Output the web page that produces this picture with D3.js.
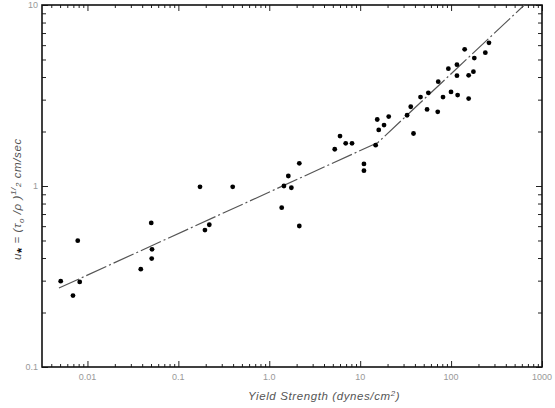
<!DOCTYPE html>
<html>
<head>
<meta charset="utf-8">
<script src="https://cdn.jsdelivr.net/npm/d3@7"></script>
<style>
  html, body { margin: 0; padding: 0; background: #fff; }
  svg { display: block; }
</style>
</head>
<body>
<svg id="chart" width="555" height="408"></svg>
<script>
// ---- Data ----
const yieldStrength = [
  0.00508, 0.00693, 0.00782, 0.00822,
  0.0386, 0.0503, 0.0513, 0.0509,
  0.173, 0.396, 0.196, 0.219,
  1.37, 1.45, 1.62, 1.75, 2.14, 2.14,
  5.25, 6.0, 6.93, 8.13, 11.0, 11.0,
  14.8, 15.4, 16.0, 18.3, 20.6,
  32.8, 38.6, 36.0, 46.1, 54.4, 56.2, 71.3, 72.2, 81.5,
  93.3, 99.8, 116, 118, 116, 141, 156, 156, 176, 180, 238, 261
];
const frictionVelocity = [
  0.298, 0.248, 0.499, 0.295,
  0.347, 0.625, 0.447, 0.397,
  0.99, 0.99, 0.571, 0.611,
  0.759, 1.0, 1.136, 0.978, 1.334, 0.601,
  1.596, 1.888, 1.72, 1.72, 1.324, 1.216,
  1.68, 2.33, 2.04, 2.17, 2.42,
  2.46, 1.95, 2.74, 3.10, 2.65, 3.27, 2.57, 3.77, 3.10,
  4.45, 3.31, 4.68, 3.18, 4.07, 5.69, 4.09, 3.04, 4.28, 5.09, 5.45, 6.18
];
const fitX = [0.00486, 15.7, 640];
const fitY = [0.273, 1.74, 10];

const xTickValues = [0.01, 0.1, 1, 10, 100, 1000];
const xTickLabels = ["0.01", "0.1", "1.0", "10", "100", "1000"];
const yTickValues = [0.1, 1, 10];
const yTickLabels = ["0.1", "1", "10"];

// ---- Layout ----
const W = 555, H = 408;
const mLeft = 42, mRight = 542, mTop = 5, mBottom = 367;

const svg = d3.select("#chart");

const x = d3.scaleLog().domain([Math.pow(10, -2.5), 1000]).range([mLeft, mRight]);
const y = d3.scaleLog().domain([0.1, 10]).range([mBottom, mTop]);

function minorTicks(scale) {
  const [a, b] = scale.domain();
  const out = [];
  for (let e = Math.floor(Math.log10(a)); e <= Math.ceil(Math.log10(b)); e++) {
    for (let m = 2; m <= 9; m++) {
      const v = m * Math.pow(10, e);
      if (v > a * 1.0001 && v < b * 0.9999) out.push(v);
    }
  }
  return out;
}
const xMinor = minorTicks(x);
const yMinor = minorTicks(y);

function drawTicks(g) {
  g.selectAll("path").remove();
  g.selectAll("line").attr("stroke", "#222").attr("stroke-width", 1);
  g.selectAll("text").remove();
}

svg.append("g").attr("transform", `translate(0,${mBottom})`)
  .call(d3.axisBottom(x).tickValues(xMinor).tickSize(-3).tickFormat(""))
  .call(drawTicks);
svg.append("g").attr("transform", `translate(0,${mBottom})`)
  .call(d3.axisBottom(x).tickValues(xTickValues).tickSize(-6).tickFormat(""))
  .call(drawTicks);
svg.append("g").attr("transform", `translate(0,${mTop})`)
  .call(d3.axisTop(x).tickValues(xMinor).tickSize(-3).tickFormat(""))
  .call(drawTicks);
svg.append("g").attr("transform", `translate(0,${mTop})`)
  .call(d3.axisTop(x).tickValues(xTickValues).tickSize(-6).tickFormat(""))
  .call(drawTicks);
svg.append("g").attr("transform", `translate(${mLeft},0)`)
  .call(d3.axisLeft(y).tickValues(yMinor).tickSize(-4).tickFormat(""))
  .call(drawTicks);
svg.append("g").attr("transform", `translate(${mLeft},0)`)
  .call(d3.axisLeft(y).tickValues(yTickValues).tickSize(-6).tickFormat(""))
  .call(drawTicks);
svg.append("g").attr("transform", `translate(${mRight},0)`)
  .call(d3.axisRight(y).tickValues(yMinor).tickSize(-4).tickFormat(""))
  .call(drawTicks);
svg.append("g").attr("transform", `translate(${mRight},0)`)
  .call(d3.axisRight(y).tickValues(yTickValues).tickSize(-6).tickFormat(""))
  .call(drawTicks);

svg.append("rect")
  .attr("x", mLeft).attr("y", mTop)
  .attr("width", mRight - mLeft).attr("height", mBottom - mTop)
  .attr("fill", "none").attr("stroke", "#111").attr("stroke-width", 1.6);

const labelFont = "Liberation Sans, Arial, sans-serif";
svg.append("g").selectAll("text")
  .data(xTickValues)
  .join("text")
  .attr("x", d => x(d))
  .attr("y", mBottom + 13)
  .attr("text-anchor", "middle")
  .attr("font-family", labelFont)
  .attr("font-size", 9)
  .attr("fill", "#999")
  .text((d, i) => xTickLabels[i]);

svg.append("g").selectAll("text")
  .data(yTickValues)
  .join("text")
  .attr("x", mLeft - 4)
  .attr("y", d => y(d) + 3)
  .attr("text-anchor", "end")
  .attr("font-family", labelFont)
  .attr("font-size", 9)
  .attr("fill", "#999")
  .text((d, i) => yTickLabels[i]);

const line = d3.line().x(d => x(d[0])).y(d => y(d[1]));
svg.append("path")
  .datum(fitX.map((v, i) => [v, fitY[i]]))
  .attr("d", line)
  .attr("fill", "none")
  .attr("stroke", "#555")
  .attr("stroke-width", 1.2)
  .attr("stroke-dasharray", "22,3,2,3");

svg.append("g").selectAll("circle")
  .data(yieldStrength.map((v, i) => [v, frictionVelocity[i]]))
  .join("circle")
  .attr("cx", d => x(d[0]))
  .attr("cy", d => y(d[1]))
  .attr("r", 2.4)
  .attr("fill", "#000");

const xt = svg.append("text")
  .attr("x", 248)
  .attr("y", 400)
  .attr("font-family", labelFont)
  .attr("font-style", "italic")
  .attr("font-size", 11.5)
  .attr("letter-spacing", 0.6)
  .attr("fill", "#555");
xt.append("tspan").text("Yield Strength (dynes/cm");
xt.append("tspan").attr("dy", -4).attr("font-size", 8).text("2");
xt.append("tspan").attr("dy", 4).text(")");

const yt = svg.append("text")
  .attr("transform", "translate(21,260) rotate(-90)")
  .attr("font-family", labelFont)
  .attr("font-style", "italic")
  .attr("font-size", 11.5)
  .attr("letter-spacing", 0.6)
  .attr("fill", "#555");
yt.append("tspan").text("u");
yt.append("tspan").attr("dy", 5).attr("font-size", 13).attr("font-style", "normal")
  .attr("font-weight", "bold").attr("fill", "#111").text("*");
yt.append("tspan").attr("dy", -5).text(" = (τ");
yt.append("tspan").attr("dy", 3).attr("font-size", 8).text("o");
yt.append("tspan").attr("dy", -3).text(" /ρ )");
yt.append("tspan").attr("dy", -5).attr("font-size", 8).text("1");
yt.append("tspan").attr("font-size", 8).text("/");
yt.append("tspan").attr("dy", 5).attr("font-size", 8).text("2");
yt.append("tspan").text("  cm/sec");
</script>
</body>
</html>
